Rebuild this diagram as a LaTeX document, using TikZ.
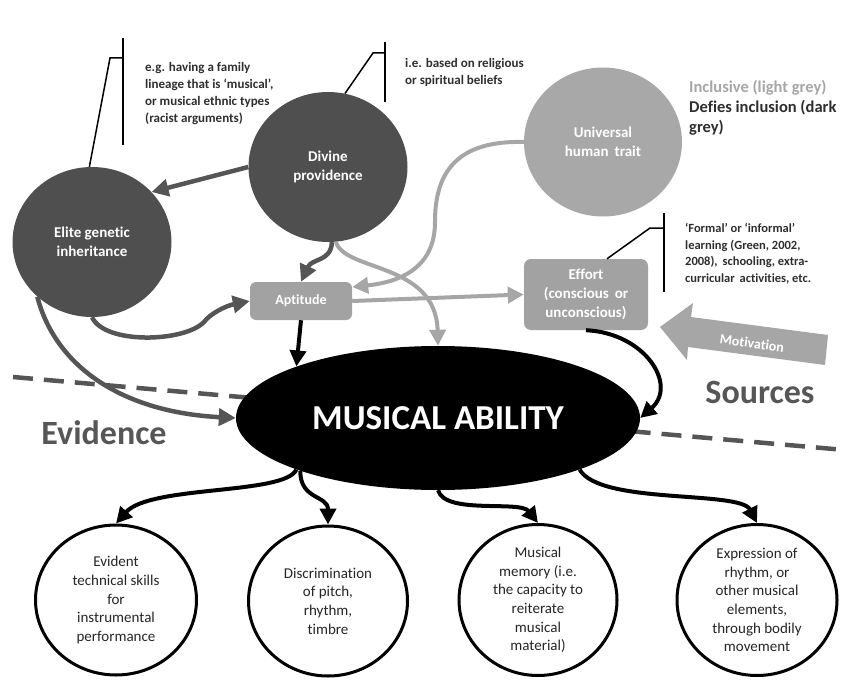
\documentclass[tikz,border=0pt]{standalone}
\usepackage{fontspec}
\setmainfont{Carlito}[Ligatures=NoCommon]
\usetikzlibrary{arrows.meta,shapes.geometric}
\definecolor{dkgrey}{HTML}{4F4F4F}
\definecolor{ltcirc}{HTML}{A8A8A8}
\definecolor{ltgrey}{HTML}{A6A6A6}
\definecolor{boxgrey}{HTML}{A2A2A2}
\definecolor{arrdk}{HTML}{555555}
\definecolor{txtdk}{HTML}{2E2E2E}
\definecolor{sidegrey}{HTML}{565656}
\begin{document}
\begin{tikzpicture}[x=1pt,y=-1pt,
  darkcirc/.style={ellipse, fill=dkgrey, text=white, font=\fontsize{15}{19}\selectfont\bfseries, align=center, inner sep=0pt, minimum width=159pt, minimum height=150pt},
  lightcirc/.style={darkcirc, fill=ltcirc},
  greybox/.style={rectangle, rounded corners=6pt, fill=boxgrey, text=white, font=\fontsize{15}{19}\selectfont\bfseries, align=center, inner sep=0pt},
  evid/.style={ellipse, draw=black, line width=3pt, fill=white, minimum width=159pt, minimum height=150pt, align=center, font=\fontsize{15}{18.7}\selectfont, text=black!85, inner sep=0pt},
  darr/.style={draw=arrdk, line width=4.5pt, -{Triangle[length=17pt,width=17pt]}},
  larr/.style={draw=ltgrey, line width=4pt, -{Triangle[length=16pt,width=16pt]}},
  barr/.style={draw=black, line width=4pt, -{Triangle[length=16pt,width=16pt]}},
  callout/.style={draw=black, line width=1.5pt},
  notetxt/.style={font=\fontsize{13}{17}\selectfont\bfseries, text=txtdk, align=left, anchor=west, inner sep=0pt},
  legendtxt/.style={font=\fontsize{16.5}{20}\selectfont\bfseries, align=left, anchor=west, inner sep=0pt},
  sidetxt/.style={font=\fontsize{34}{40}\selectfont\bfseries, text=sidegrey, inner sep=0pt},
  dashline/.style={draw=arrdk, line width=4.5pt, dash pattern=on 20pt off 11pt}
]
\useasboundingbox (0,0) rectangle (841,693);
\clip (0,0) rectangle (841,693);

% dashed divider (behind everything)
\coordinate (dashL) at (13,377);
\coordinate (dashR) at (845,450);
\draw[dashline] (dashL) -- (dashR);

% source nodes
\node[darkcirc] (elite) at (92,242) {Elite genetic\\inheritance};
\node[darkcirc] (divine) at (328,167) {Divine\\providence};
\node[lightcirc, minimum width=158pt, minimum height=149pt] (universal) at (603,142) {Universal\\human\, trait};
\node[greybox, minimum width=102pt, minimum height=38pt, font=\fontsize{14}{18}\selectfont\bfseries] (aptitude) at (301,301) {Aptitude};
\node[greybox, minimum width=124pt, minimum height=71pt, rounded corners=7pt] (effort) at (586,294.5) {Effort\\(conscious\, or\\unconscious)};

% central node
\node[ellipse, fill=black, minimum width=404pt, minimum height=144pt, inner sep=0pt, text=white, font=\fontsize{35}{40}\selectfont\bfseries] (ma) at (438,418) {MUSICAL ABILITY};

% evidence nodes
\node[evid, minimum width=161pt] (e1) at (116,600) {Evident\\technical skills\\for\\instrumental\\performance};
\node[evid] (e2) at (328,601) {Discrimination\\of pitch,\\rhythm,\\timbre};
\node[evid, minimum width=158pt, minimum height=151pt] (e3) at (538,600) {Musical\\memory (i.e.\\the capacity to\\reiterate\\musical\\material)};
\node[evid, minimum width=160pt, minimum height=151pt] (e4) at (757,600) {Expression of\\rhythm, or\\other musical\\elements,\\through bodily\\movement};

% side labels
\node[sidetxt] (evidence) at (104,433) {Evidence};
\node[sidetxt] (sources) at (760,392) {Sources};

% legend
\node[legendtxt, text=ltgrey] (incl) at (689,88) {Inclusive (light grey)};
\node[legendtxt, text=txtdk] (defies) at (689,117.5) {Defies inclusion (dark\\grey)};

% callouts
\node[notetxt] (note1) at (145,94) {e.g. having a family\\lineage that is ‘musical’,\\or musical ethnic types\\(racist arguments)};
\coordinate (c1a) at (123,38);
\coordinate (c1b) at (123,145);
\coordinate (c1c) at (123,58);
\coordinate (c1d) at (110,58);
\draw[callout] (c1a) -- (c1b);
\draw[callout] (c1c) -- (c1d) -- (elite.92);

\node[notetxt] (note2) at (405,72) {i.e. based on religious\\or spiritual beliefs};
\coordinate (c2a) at (385,42);
\coordinate (c2b) at (385,102);
\coordinate (c2c) at (385,53);
\coordinate (c2d) at (373,53);
\draw[callout] (c2a) -- (c2b);
\draw[callout] (c2c) -- (c2d) -- (divine.77);

\node[notetxt, font=\fontsize{12.5}{16.5}\selectfont\bfseries] (note3) at (685,253.5) {‘Formal’ or ‘informal’\\learning (Green, 2002,\\2008),\, schooling, extra-\\curricular\, activities, etc.};
\coordinate (c3a) at (664,213);
\coordinate (c3b) at (664,292);
\coordinate (c3c) at (664,228);
\coordinate (c3d) at (650,228);
\draw[callout] (c3a) -- (c3b);
\draw[callout] (c3c) -- (c3d) -- ([xshift=21pt]effort.north);

% motivation block arrow
\fill[ltgrey] (660,327) -- (693,303) -- (691,317) -- (828,335) -- (825,365) -- (688,347) -- (687,360) -- cycle;
\node[text=white, font=\fontsize{14}{16}\selectfont\bfseries, rotate=-7.8, inner sep=0pt] (motiv) at (752,343) {Motivation};

% connectors among sources
\draw[darr] (divine.west) -- (elite.40);
\draw[darr] (divine.-87) .. controls (331,262) and (312,258) .. (aptitude.north);
\draw[darr] (elite.south) .. controls (105,345) and (185,342) .. (204,322) .. controls (210,314) and (225,306) .. (aptitude.west);
\draw[darr] (elite.-135) .. controls (55,365) and (120,412) .. (ma.west);
\draw[larr] (aptitude.east) -- (effort.west);
\draw[larr] (universal.west) .. controls (450,140) and (435,180) .. (435,222) .. controls (435,268) and (400,282) .. ([yshift=14pt]aptitude.east);
\draw[larr] (divine.-84) .. controls (345,272) and (436,262) .. (ma.north);
\draw[barr] (aptitude.south) -- (ma.160);
\draw[barr] (effort.south) .. controls (645,333) and (678,385) .. (ma.east);

% connectors to evidence
\draw[barr] (ma.-160) .. controls (285,495) and (150,485) .. (e1.north);
\draw[barr] (ma.-159) .. controls (300,500) and (328,495) .. (e2.north);
\draw[barr] (ma.south) .. controls (445,515) and (520,500) .. (e3.north);
\draw[barr] (ma.-20) .. controls (600,505) and (740,490) .. (e4.north);
\end{tikzpicture}
\end{document}
